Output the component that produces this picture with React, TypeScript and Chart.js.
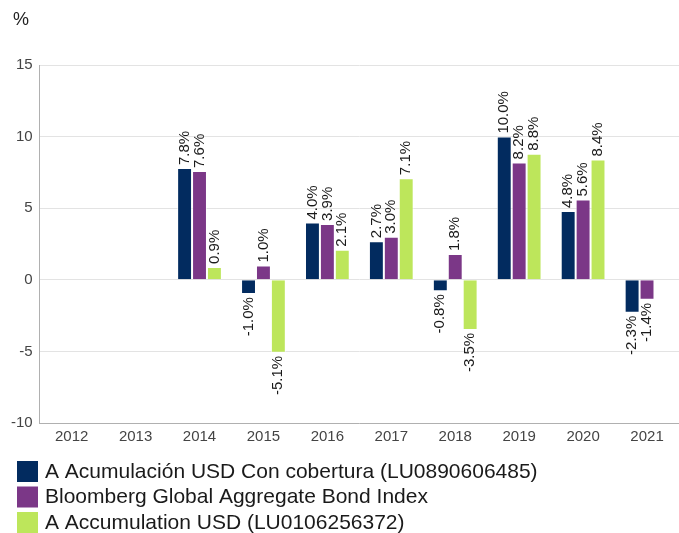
import React, { useEffect, useRef } from "react";
import { Chart, registerables } from "chart.js";

Chart.register(...registerables);

const years = ["2012", "2013", "2014", "2015", "2016", "2017", "2018", "2019", "2020", "2021"];
const hedgedUsd = [null, null, 7.8, -1.0, 4.0, 2.7, -0.8, 10.0, 4.8, -2.3];
const bloombergIndex = [null, null, 7.6, 1.0, 3.9, 3.0, 1.8, 8.2, 5.6, -1.4];
const accumulationUsd = [null, null, 0.9, -5.1, 2.1, 7.1, -3.5, 8.8, 8.4, null];
const seriesNames = [
  "A Acumulación USD Con cobertura (LU0890606485)",
  "Bloomberg Global Aggregate Bond Index",
  "A Accumulation USD (LU0106256372)",
];
const seriesColors = ["#022b5f", "#7b3787", "#bde65b"];
const yTicks = [15, 10, 5, 0, -5, -10];

const FONT = "'Liberation Sans', Arial, sans-serif";

const valueLabels = {
  id: "valueLabels",
  afterDatasetsDraw(chart: any) {
    const ctx = chart.ctx;
    ctx.save();
    ctx.font = `15px ${FONT}`;
    ctx.fillStyle = "#1a1a1a";
    ctx.textBaseline = "middle";
    chart.data.datasets.forEach((ds: any, di: number) => {
      const meta = chart.getDatasetMeta(di);
      meta.data.forEach((bar: any, i: number) => {
        const v = ds.data[i];
        if (v === null || v === undefined) return;
        const text = v.toFixed(1) + "%";
        ctx.save();
        ctx.translate(bar.x, bar.y);
        ctx.rotate(-Math.PI / 2);
        if (v >= 0) {
          ctx.textAlign = "left";
          ctx.fillText(text, 3, 0);
        } else {
          ctx.textAlign = "right";
          ctx.fillText(text, -3, 0);
        }
        ctx.restore();
      });
    });
    ctx.restore();
  },
  afterDraw(chart: any) {
    const ctx = chart.ctx;
    ctx.save();
    // unit label
    ctx.font = `18px ${FONT}`;
    ctx.fillStyle = "#222";
    ctx.textAlign = "left";
    ctx.textBaseline = "middle";
    ctx.fillText("%", 13, 20);
    // legend
    const area = chart.chartArea;
    const top0 = area.bottom + 38;
    ctx.font = `21px ${FONT}`;
    seriesNames.forEach((name, i) => {
      const y = top0 + i * 25.5;
      ctx.fillStyle = seriesColors[i];
      ctx.fillRect(17, y, 21, 21);
      ctx.fillStyle = "#1a1a1a";
      ctx.fillText(name, 45, y + 11);
    });
    ctx.restore();
  },
};

export default function App() {
  const ref = useRef<HTMLCanvasElement>(null);
  useEffect(() => {
    document.body.style.margin = "0";
    const chart = new Chart(ref.current as HTMLCanvasElement, {
      type: "bar",
      data: {
        labels: years,
        datasets: [hedgedUsd, bloombergIndex, accumulationUsd].map((d, i) => ({
          label: seriesNames[i],
          data: d as any,
          backgroundColor: seriesColors[i],
          borderColor: "rgba(255,255,255,0.6)",
          borderWidth: 1,
          categoryPercentage: 0.7,
          barPercentage: 1,
        })),
      },
      options: {
        animation: false,
        responsive: false,
        maintainAspectRatio: false,
        layout: { padding: { top: 65, left: 4, right: 0, bottom: 82 } },
        plugins: {
          tooltip: { enabled: false },
          title: { display: false },
          legend: { display: false },
        },
        scales: {
          x: {
            grid: { display: false, drawTicks: false },
            border: { display: true, color: "#b0b0b0" },
            ticks: { color: "#444", font: { family: FONT, size: 15 }, padding: 5 },
          },
          y: {
            min: -10,
            max: 15,
            afterBuildTicks: (axis: any) => {
              axis.ticks = yTicks.map((v) => ({ value: v }));
            },
            grid: { color: "#e3e3e3", drawTicks: false },
            border: { display: true, color: "#b0b0b0" },
            ticks: { color: "#444", font: { family: FONT, size: 15 }, padding: 7 },
          },
        },
      },
      plugins: [valueLabels],
    });
    return () => chart.destroy();
  }, []);
  return (
    <div style={{ position: "absolute", left: 0, top: 0, width: 679, height: 533 }}>
      <canvas ref={ref} width={679} height={533} />
    </div>
  );
}
